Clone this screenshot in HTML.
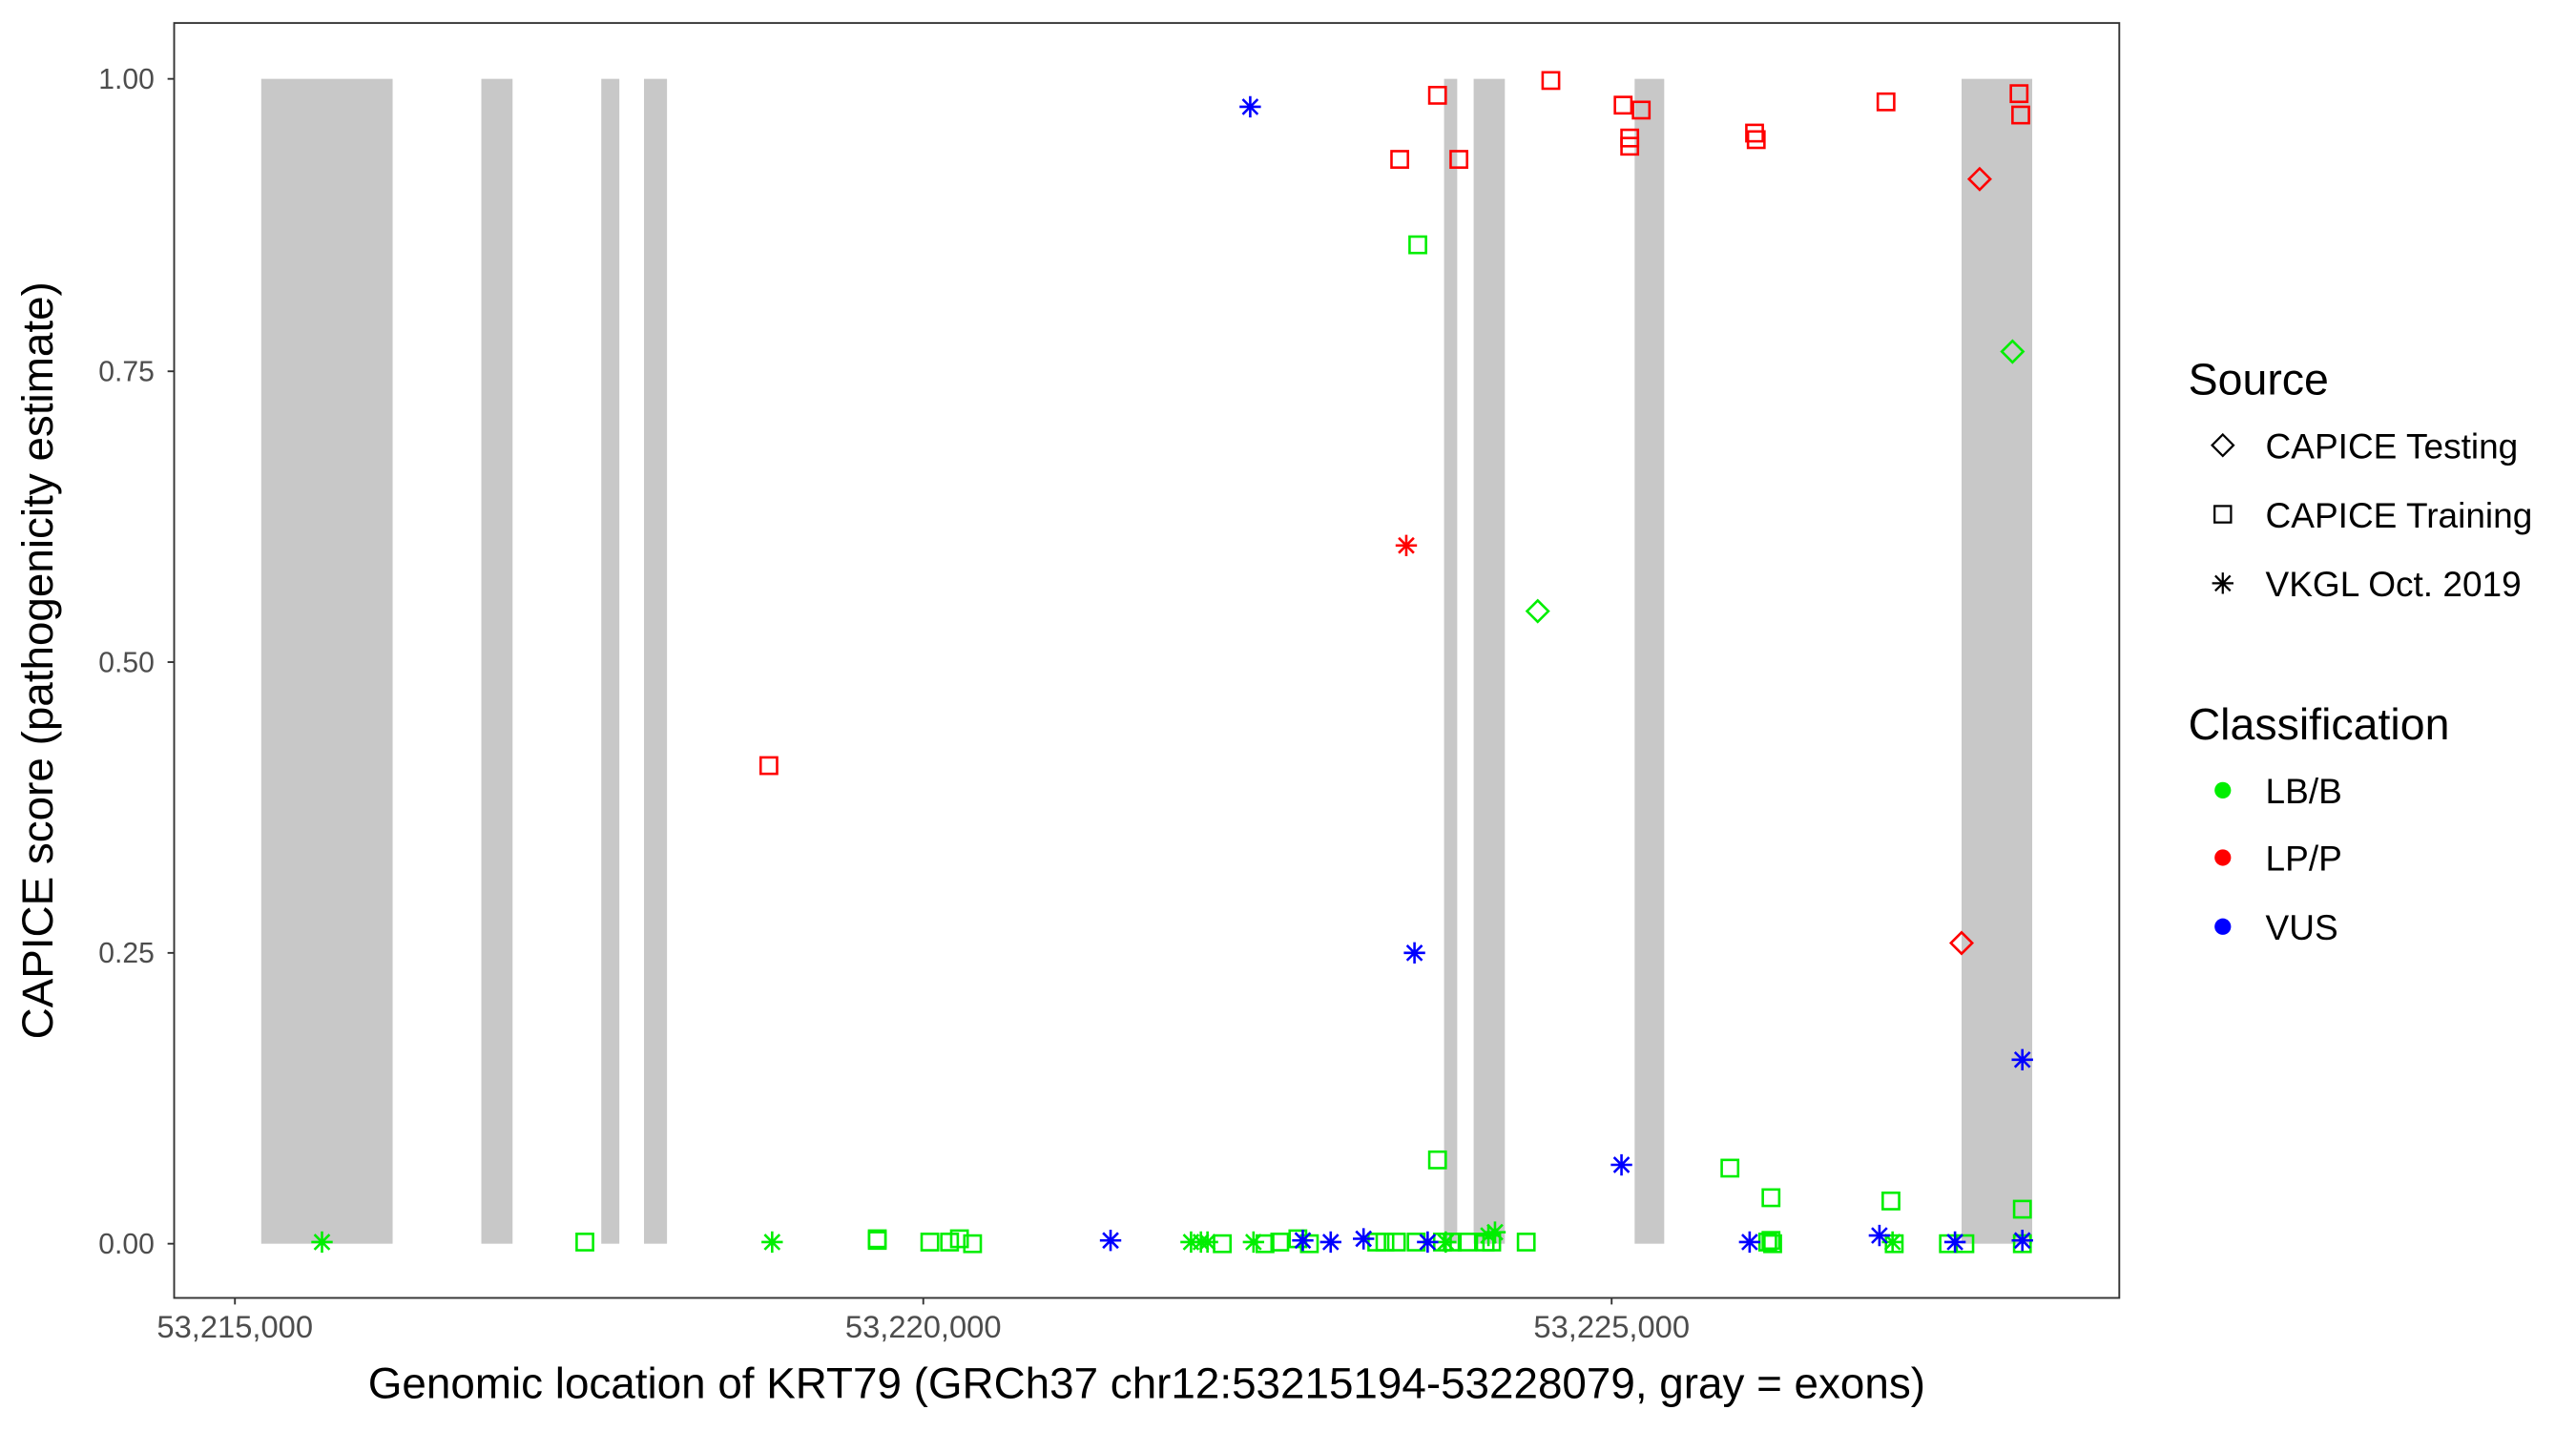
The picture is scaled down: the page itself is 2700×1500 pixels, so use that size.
<!DOCTYPE html>
<html><head><meta charset="utf-8"><style>
html,body{margin:0;padding:0;background:#fff}
svg{display:block}
text{font-family:"Liberation Sans",Arial,sans-serif}
</style></head><body>
<svg id="s" width="2700" height="1500" viewBox="0 0 1568 871" preserveAspectRatio="none" xmlns="http://www.w3.org/2000/svg">
<rect x="0" y="0" width="1568" height="871" fill="#fff"/>
<g fill="#c8c8c8">
<rect x="159" y="48" width="80" height="709"/>
<rect x="293" y="48" width="19" height="709"/>
<rect x="366" y="48" width="11" height="709"/>
<rect x="392" y="48" width="14" height="709"/>
<rect x="879" y="48" width="8" height="709"/>
<rect x="897" y="48" width="19" height="709"/>
<rect x="995" y="48" width="18" height="709"/>
<rect x="1194" y="48" width="43" height="709"/>
</g>
<g id="pts" fill="none" stroke-width="1.5"></g>
<rect x="106" y="14" width="1184" height="776" fill="none" stroke="#333" stroke-width="1.1"/>
<g stroke="#333" stroke-width="1.1">
<line x1="102" y1="48" x2="106" y2="48"/><line x1="102" y1="226" x2="106" y2="226"/>
<line x1="102" y1="403" x2="106" y2="403"/><line x1="102" y1="580" x2="106" y2="580"/>
<line x1="102" y1="757" x2="106" y2="757"/>
<line x1="143" y1="790" x2="143" y2="794"/><line x1="562" y1="790" x2="562" y2="794"/>
<line x1="981" y1="790" x2="981" y2="794"/>
</g>
<g fill="#4d4d4d" font-size="17.5" text-anchor="end">
<text x="94" y="54">1.00</text><text x="94" y="232">0.75</text>
<text x="94" y="409">0.50</text><text x="94" y="586">0.25</text>
<text x="94" y="763">0.00</text>
</g>
<g fill="#4d4d4d" font-size="19" text-anchor="middle">
<text x="143" y="814">53,215,000</text><text x="562" y="814">53,220,000</text><text x="981" y="814">53,225,000</text>
</g>
<text x="698" y="851" font-size="26.6" text-anchor="middle" fill="#000">Genomic location of KRT79 (GRCh37 chr12:53215194-53228079, gray = exons)</text>
<text transform="translate(32,402) rotate(-90)" font-size="26.6" text-anchor="middle" fill="#000">CAPICE score (pathogenicity estimate)</text>
<text x="1332" y="240" font-size="27" fill="#000">Source</text>
<text x="1379" y="279" font-size="21.5" fill="#000">CAPICE Testing</text>
<text x="1379" y="321" font-size="21.5" fill="#000">CAPICE Training</text>
<text x="1379" y="363" font-size="21.5" fill="#000">VKGL Oct. 2019</text>
<text x="1332" y="450" font-size="27" fill="#000">Classification</text>
<text x="1379" y="489" font-size="21.5" fill="#000">LB/B</text>
<text x="1379" y="530" font-size="21.5" fill="#000">LP/P</text>
<text x="1379" y="572" font-size="21.5" fill="#000">VUS</text>
<circle cx="1353" cy="481" r="5" fill="#00ee00"/>
<circle cx="1353" cy="522" r="5" fill="#ff0000"/>
<circle cx="1353" cy="564" r="5" fill="#0000ff"/>
<g id="leg" fill="none" stroke="#000" stroke-width="1.3"></g>
</svg>
<script>
var NS="http://www.w3.org/2000/svg";
function mk(g,sh,x,y,c){
 var e;
 if(sh=="s"){e=document.createElementNS(NS,"rect");e.setAttribute("x",x-5);e.setAttribute("y",y-5);e.setAttribute("width",10);e.setAttribute("height",10);}
 else if(sh=="d"){e=document.createElementNS(NS,"path");e.setAttribute("d","M"+x+" "+(y-6.5)+"L"+(x+6.5)+" "+y+"L"+x+" "+(y+6.5)+"L"+(x-6.5)+" "+y+"Z");}
 else{e=document.createElementNS(NS,"path");var r=6.5,d=4.6;e.setAttribute("d","M"+x+" "+(y-r)+"V"+(y+r)+"M"+(x-r)+" "+y+"H"+(x+r)+"M"+(x-d)+" "+(y-d)+"L"+(x+d)+" "+(y+d)+"M"+(x-d)+" "+(y+d)+"L"+(x+d)+" "+(y-d));}
 e.setAttribute("stroke",c);g.appendChild(e);
}
var R="#ff0000",G="#00ee00",B="#0000ff";
var P=[];
[[468,466],[852,97],[875,58],[888,97],[944,49],[988,64],[992,84],[992,89],[999,67],[1068,81],[1069,85],[1148,62],[1229,57],[1230,70]].forEach(p=>P.push(["s",p[0],p[1],R]));
P.push(["d",1205,109,R],["d",1194,574,R],["x",856,332,R],["d",1225,214,G],["d",936,372,G]);
[[863,149],[875,706],[1053,711],[1078,729],[1151,731],[1231,736],[356,756],[534,754],[534,755],[566,756],[578,756],[584,754],[592,757],[744,757],[770,757],[779,756],[790,754],[797,757],[838,756],[843,756],[850,756],[862,756],[878,756],[884,756],[893,756],[904,756],[908,756],[929,756],[1076,756],[1078,755],[1079,757],[1153,757],[1186,757],[1196,757],[1231,757]].forEach(p=>P.push(["s",p[0],p[1],G]));
[[196,756],[470,756],[725,756],[731,756],[735,756],[763,756],[906,752],[910,750],[880,756],[1152,756]].forEach(p=>P.push(["x",p[0],p[1],G]));
[[761,65],[861,580],[987,709],[1231,645],[676,755],[793,755],[810,756],[830,754],[869,756],[1065,756],[1144,752],[1190,756],[1231,755]].forEach(p=>P.push(["x",p[0],p[1],B]));
var g=document.getElementById("pts");P.forEach(p=>mk(g,p[0],p[1],p[2],p[3]));
var l=document.getElementById("leg");mk(l,"d",1353,271,"#000");mk(l,"s",1353,313,"#000");mk(l,"x",1353,355,"#000");
</script>
</body></html>
